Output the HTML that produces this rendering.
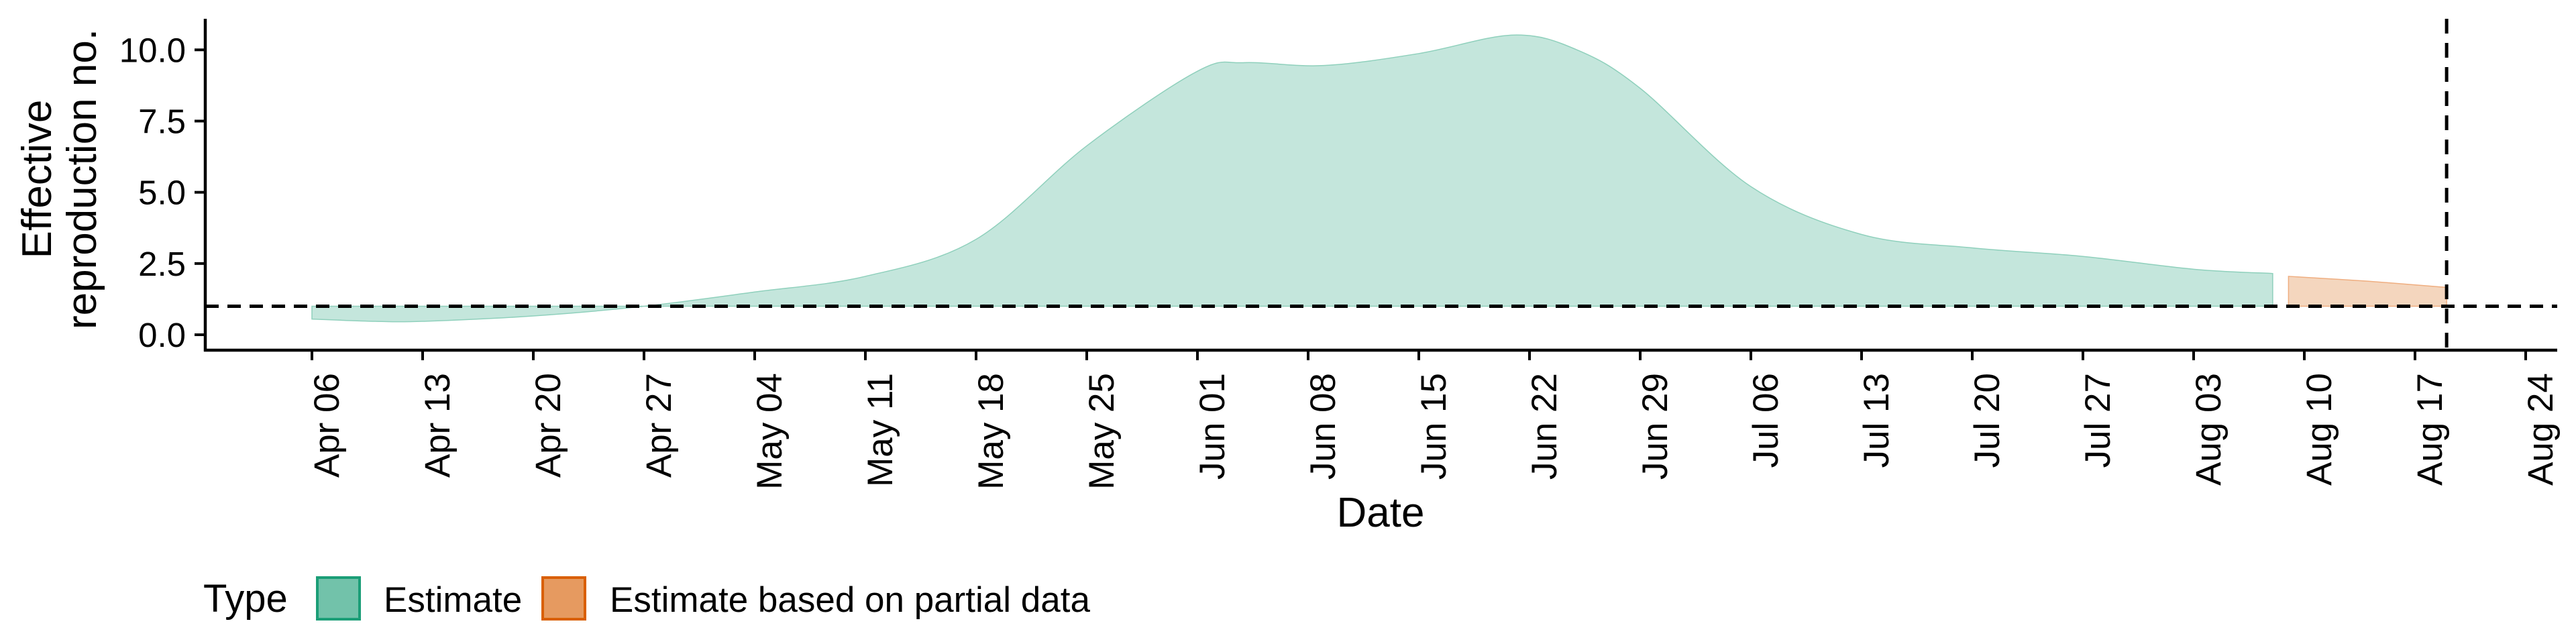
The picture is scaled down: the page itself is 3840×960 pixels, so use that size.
<!DOCTYPE html>
<html><head><meta charset="utf-8"><style>
html,body{margin:0;padding:0;background:#fff;}
svg{display:block;font-family:"Liberation Sans",Arial,sans-serif;}
</style></head><body>
<svg id="chart" width="3840" height="960" viewBox="0 0 3840 960" xmlns="http://www.w3.org/2000/svg">
<g id="plot"></g>
<text transform="translate(76,267) rotate(-90)" font-size="62" text-anchor="middle">Effective</text>
<text transform="translate(143,267) rotate(-90)" font-size="62" text-anchor="middle">reproduction no.</text>
<text x="2058" y="785" font-size="62" text-anchor="middle">Date</text>
<g>
<text x="303" y="912" font-size="58">Type</text>
<rect x="473" y="861" width="63" height="62" fill="#72c2aa" stroke="#1b9e77" stroke-width="4"/>
<text x="572" y="912" font-size="53">Estimate</text>
<rect x="809" y="861" width="63" height="62" fill="#e69a60" stroke="#d95f02" stroke-width="4"/>
<text x="909" y="912" font-size="53">Estimate based on partial data</text>
</g>
</svg>
<script>
const estDates = ["2020-04-06","2020-04-10","2020-04-13","2020-04-20","2020-04-27","2020-05-04","2020-05-11","2020-05-18","2020-05-25","2020-06-01","2020-06-04","2020-06-09","2020-06-15","2020-06-21","2020-06-25","2020-06-29","2020-07-06","2020-07-13","2020-07-20","2020-07-27","2020-08-03","2020-08-08"];
const estValues = [0.55,0.47,0.47,0.66,1.0,1.5,2.05,3.35,6.63,9.25,9.55,9.45,9.87,10.52,10.0,8.65,5.2,3.52,3.05,2.75,2.3,2.15];
const partialDates = ["2020-08-09","2020-08-14","2020-08-19"];
const partialValues = [2.05,1.88,1.66];
const yTicks = [0,2.5,5,7.5,10];
const yTickLabels = ["0.0","2.5","5.0","7.5","10.0"];
const xTickDates = ["2020-04-06","2020-04-13","2020-04-20","2020-04-27","2020-05-04","2020-05-11","2020-05-18","2020-05-25","2020-06-01","2020-06-08","2020-06-15","2020-06-22","2020-06-29","2020-07-06","2020-07-13","2020-07-20","2020-07-27","2020-08-03","2020-08-10","2020-08-17","2020-08-24"];
const xTickLabels = ["Apr 06","Apr 13","Apr 20","Apr 27","May 04","May 11","May 18","May 25","Jun 01","Jun 08","Jun 15","Jun 22","Jun 29","Jul 06","Jul 13","Jul 20","Jul 27","Aug 03","Aug 10","Aug 17","Aug 24"];
const refDate = "2020-08-19";
const threshold = 1;

const NS="http://www.w3.org/2000/svg";
const t0=Date.UTC(2020,3,6);
function day(s){const p=s.split('-');return (Date.UTC(+p[0],+p[1]-1,+p[2])-t0)/86400000;}
function X(s){return 465+day(s)*(165/7);}
function Y(v){return 499-v*42.47;}
const plot=document.getElementById('plot');
function mk(tag,attrs){const e=document.createElementNS(NS,tag);for(const k in attrs)e.setAttribute(k,attrs[k]);plot.appendChild(e);return e;}
function smooth(pts){
  let d='M'+pts[0][0]+','+pts[0][1];
  for(let i=0;i<pts.length-1;i++){
    const p0=pts[i-1]||pts[i],p1=pts[i],p2=pts[i+1],p3=pts[i+2]||p2;
    const c1=[p1[0]+(p2[0]-p0[0])/6,p1[1]+(p2[1]-p0[1])/6];
    const c2=[p2[0]-(p3[0]-p1[0])/6,p2[1]-(p3[1]-p1[1])/6];
    d+=' C'+c1[0]+','+c1[1]+' '+c2[0]+','+c2[1]+' '+p2[0]+','+p2[1];
  }
  return d;
}
function ribbon(dates,vals,fill,stroke,name){
  const pts=dates.map((d,i)=>[X(d),Y(vals[i])]);
  const x0=pts[0][0],x1=pts[pts.length-1][0];
  const d=smooth(pts)+' L'+x1+','+Y(threshold)+' L'+x0+','+Y(threshold)+' Z';
  const p=mk('path',{d:d,fill:fill,stroke:stroke,'stroke-width':1.5});
  
  
}
ribbon(estDates,estValues,'#c4e6dc','#8fd0bc','estimate-ribbon');
ribbon(partialDates,partialValues,'#f4d6be','#efae80','partial-estimate-ribbon');

const hl=mk('line',{x1:306,x2:3812,y1:Y(threshold),y2:Y(threshold),stroke:'#000','stroke-width':5,'stroke-dasharray':'20 13'});


const vl=mk('line',{x1:X(refDate),x2:X(refDate),y1:28,y2:522,stroke:'#000','stroke-width':5,'stroke-dasharray':'22 14'});



const ya=mk('line',{x1:306,x2:306,y1:28,y2:524,stroke:'#000','stroke-width':4.5});


const xa=mk('line',{x1:304,x2:3812,y1:522,y2:522,stroke:'#000','stroke-width':4.5});



yTicks.forEach((v,i)=>{
  const t=mk('line',{x1:290,x2:306,y1:Y(v),y2:Y(v),stroke:'#000','stroke-width':4});
  
  
  const l=mk('text',{x:277,y:Y(v)+18,'font-size':51,'text-anchor':'end'});
  l.textContent=yTickLabels[i];
  
  
});
xTickDates.forEach((d,i)=>{
  const x=X(d);
  const t=mk('line',{x1:x,x2:x,y1:522,y2:537,stroke:'#000','stroke-width':4});
  
  
  const l=mk('text',{transform:'translate('+(x+40)+',556) rotate(-90)','font-size':53,'text-anchor':'end'});
  l.textContent=xTickLabels[i];
  
  
});
</script>
</body></html>
